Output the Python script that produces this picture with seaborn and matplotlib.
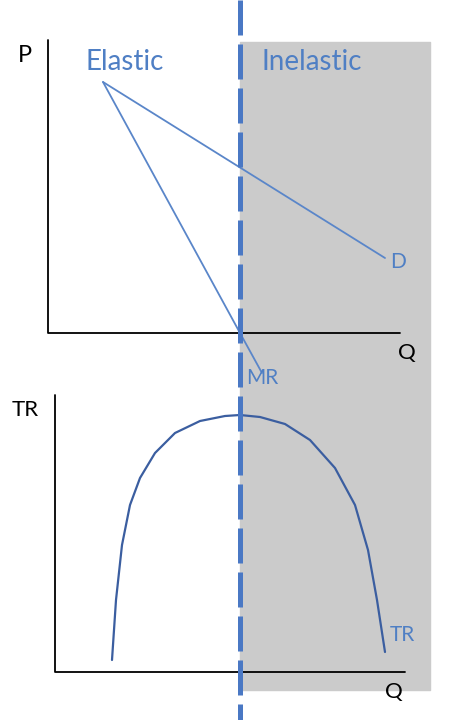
import matplotlib
matplotlib.use("Agg")
import matplotlib.pyplot as plt
import seaborn as sns

sns.set_theme(style="white")
plt.rcParams["font.family"] = ["Lato", "DejaVu Sans"]

# diagram coordinates (y grows downward)
mid_x = 240
demand_x = [103, 385]
demand_y = [82, 258]
mr_x = [103, 240, 262]
mr_y = [82, 333, 373]
tr_x = [112, 116, 122, 130, 140, 155, 175, 200, 225, 240, 260, 285, 310, 335, 355, 368, 377, 385]
tr_y = [660, 600, 545, 505, 478, 453, 433, 421, 416, 415, 417, 424, 440, 468, 505, 550, 600, 652]

blue_txt = "#4f7fc4"
blue_line = "#5a86c9"
dark_line = "#3b5ea0"

fig = plt.figure(figsize=(4.7, 7.2), dpi=100)
ax = fig.add_axes([0, 0, 1, 1])
ax.set_xlim(0, 470)
ax.set_ylim(720, 0)
ax.axis("off")

# inelastic shaded region
ax.fill_between([mid_x, 430], 42, 690, color="#cbcbcb", zorder=0)

# axes of the two panels
ax.plot([48, 48, 400], [40, 333, 333], color="black", lw=1.3)
ax.plot([55, 55, 405], [395, 672, 672], color="black", lw=1.3)

sns.lineplot(x=demand_x, y=demand_y, ax=ax, color=blue_line, lw=1.3, sort=False)
sns.lineplot(x=mr_x, y=mr_y, ax=ax, color=blue_line, lw=1.3, sort=False)
sns.lineplot(x=tr_x, y=tr_y, ax=ax, color=dark_line, lw=1.6, sort=False)

ax.plot([mid_x, mid_x], [0, 720], color="#4a78c4", lw=3.6,
        dashes=(7, 1.8), zorder=5)

ax.text(85, 62, "Elastic", color=blue_txt, fontsize=20, va="center")
ax.text(262, 62, "Inelastic", color=blue_txt, fontsize=20, va="center")
ax.text(18, 55, "P", color="black", fontsize=17, va="center")
ax.text(398, 353, "Q", color="black", fontsize=16, va="center")
ax.text(12, 410, "TR", color="black", fontsize=16, va="center")
ax.text(385, 692, "Q", color="black", fontsize=16, va="center")
ax.text(390, 262, "D", color=blue_txt, fontsize=15, va="center")
ax.text(246, 378, "MR", color=blue_txt, fontsize=15, va="center")
ax.text(390, 635, "TR", color=blue_txt, fontsize=15, va="center")

fig.savefig("out.png", dpi=100)
